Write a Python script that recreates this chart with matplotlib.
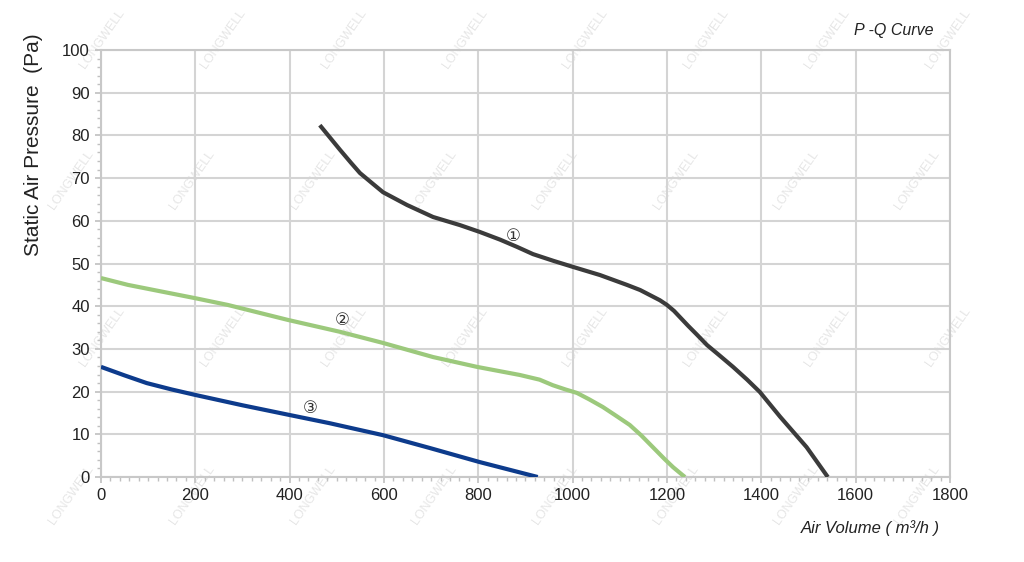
import matplotlib.pyplot as plt
from matplotlib.ticker import MultipleLocator
import numpy as np

plt.rcParams["font.family"] = ["Liberation Sans", "DejaVu Sans"]

# curve 1 (dark grey)
q1 = [464, 507, 530, 549, 575, 598, 649, 704, 761, 803, 846, 882, 916, 960, 1001, 1058,
      1115, 1143, 1164, 1185, 1200, 1215, 1227, 1245, 1263, 1285, 1310, 1340, 1370,
      1397, 1440, 1496, 1541]
p1 = [82.4, 76.6, 73.6, 71.2, 68.8, 66.7, 63.7, 60.9, 59.0, 57.4, 55.6, 53.9, 52.2,
      50.6, 49.2, 47.3, 45.0, 43.8, 42.6, 41.4, 40.3, 38.9, 37.5, 35.4, 33.4, 30.9,
      28.6, 25.8, 22.8, 19.9, 14.1, 7.0, 0]

# curve 2 (green)
q2 = [0, 57, 199, 269, 396, 507, 598, 704, 797, 888, 930, 958, 985, 1009, 1035, 1064,
      1090, 1121, 1145, 1170, 1195, 1213, 1238]
p2 = [46.6, 45.0, 41.9, 40.3, 36.8, 34.0, 31.4, 28.1, 25.8, 23.9, 22.8, 21.5, 20.5,
      19.7, 18.2, 16.4, 14.5, 12.2, 9.8, 7.0, 4.2, 2.3, 0]

# curve 3 (navy)
q3 = [0, 50, 97, 150, 201, 300, 401, 485, 598, 697, 803, 926]
p3 = [25.8, 23.8, 22.0, 20.5, 19.2, 16.8, 14.5, 12.6, 9.8, 6.8, 3.5, 0]

curve_colors = ["#3b3b3b", "#9cc97c", "#0d3b8c"]
curve_labels = ["\u2460", "\u2461", "\u2462"]
label_pos = [(873, 56.4), (511, 36.8), (443, 16.2)]

fig = plt.figure(figsize=(10.24, 5.62), dpi=100)
ax = fig.add_axes([0.0986, 0.1512, 0.8291, 0.7598])
ax.patch.set_alpha(0)

# faint watermark behind the chart
for row, wy in enumerate([0.12, 0.40, 0.68, 0.93]):
    for wx in np.arange(0.07, 0.97, 0.118):
        fig.text(wx + 0.03 * (row % 2), wy, "LONGWELL", rotation=55,
                 fontsize=9, color="#e6e6e6", ha="center", va="center",
                 zorder=-5)

for q, p, c in zip([q1, q2, q3], [p1, p2, p3], curve_colors):
    ax.plot(q, p, color=c, lw=3.0, solid_capstyle="butt",
            solid_joinstyle="round", zorder=3)

for (lx, ly), lab in zip(label_pos, curve_labels):
    ax.text(lx, ly, lab, fontsize=12, ha="center", va="center",
            color="#333333", family=["DejaVu Sans"], zorder=4)

ax.set_xlim(0, 1800)
ax.set_ylim(0, 100)
ax.xaxis.set_major_locator(MultipleLocator(200))
ax.xaxis.set_minor_locator(MultipleLocator(20))
ax.yaxis.set_major_locator(MultipleLocator(10))
ax.yaxis.set_minor_locator(MultipleLocator(2))
ax.grid(True, which="major", color="#d4d4d4", lw=1.5, zorder=1)
ax.set_axisbelow(True)
for s in ax.spines.values():
    s.set_color("#c8c8c8")
    s.set_linewidth(1.5)
ax.tick_params(which="both", direction="out", color="#c0c0c0",
               labelsize=12, labelcolor="#222222")
ax.tick_params(which="major", length=4, width=1.2, pad=4)
ax.tick_params(which="minor", length=3, width=1)

# y label sits high on the left, like the original
fig.text(0.033, 0.742, "Static Air Pressure  (Pa)", fontsize=15,
         rotation=90, ha="center", va="center", color="#222222")
fig.text(0.8496, 0.06, "Air Volume ( m\u00b3/h )", fontsize=12, style="italic",
         ha="center", va="center", color="#222222")
fig.text(0.8725, 0.945, "P -Q Curve", fontsize=11.5, style="italic",
         ha="center", va="center", color="#222222")

fig.savefig("out.png", dpi=100)
